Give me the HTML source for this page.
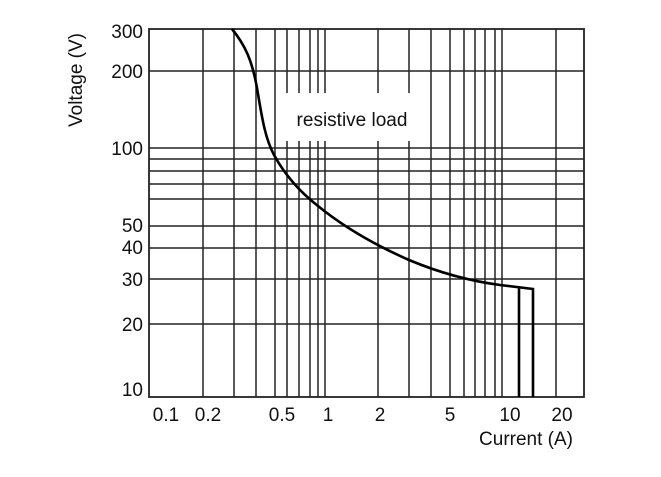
<!DOCTYPE html>
<html><head><style>body{margin:0;background:#fff}</style></head><body>
<svg width="661" height="472" xmlns="http://www.w3.org/2000/svg" font-family="Liberation Sans, sans-serif" font-size="19" fill="#111">
<g stroke="#222" stroke-width="1.5">
<line x1="149" y1="71" x2="584" y2="71"/>
<line x1="149" y1="148" x2="584" y2="148"/>
<line x1="149" y1="159" x2="584" y2="159"/>
<line x1="149" y1="171" x2="584" y2="171"/>
<line x1="149" y1="184" x2="584" y2="184"/>
<line x1="149" y1="199" x2="584" y2="199"/>
<line x1="149" y1="226" x2="584" y2="226"/>
<line x1="149" y1="248" x2="584" y2="248"/>
<line x1="149" y1="279" x2="584" y2="279"/>
<line x1="149" y1="324" x2="584" y2="324"/>
<line x1="203" y1="29" x2="203" y2="397"/>
<line x1="234" y1="29" x2="234" y2="397"/>
<line x1="256" y1="29" x2="256" y2="397"/>
<line x1="275" y1="29" x2="275" y2="397"/>
<line x1="431" y1="29" x2="431" y2="397"/>
<line x1="450" y1="29" x2="450" y2="397"/>
<line x1="464" y1="29" x2="464" y2="397"/>
<line x1="475" y1="29" x2="475" y2="397"/>
<line x1="485" y1="29" x2="485" y2="397"/>
<line x1="495" y1="29" x2="495" y2="397"/>
<line x1="502" y1="29" x2="502" y2="397"/>
<line x1="556" y1="29" x2="556" y2="397"/>
</g>
<g stroke="#222" stroke-width="1.5">
<path d="M287 29V93M287 141V397M299 29V93M299 141V397M310 29V93M310 141V397M318 29V93M318 141V397M325 29V93M325 141V397M378 29V93M378 141V397M409 29V93M409 141V397"/>
</g>
<rect x="149" y="29" width="435" height="368" fill="none" stroke="#222" stroke-width="1.8"/>
<text x="352" y="126" text-anchor="middle">resistive load</text>
<path d="M232 29 C245 45 252 60 257 88 C262 118 265 138 274 155 C285 175 300 192 318 206 C345 228 375 245 409 260 C440 273 470 281 500 285 L533 289 V397 M519 287 V397" fill="none" stroke="#000" stroke-width="2.6"/>
<g text-anchor="end">
<text x="143" y="38">300</text>
<text x="143" y="78">200</text>
<text x="143" y="155">100</text>
<text x="143" y="232">50</text>
<text x="143" y="254">40</text>
<text x="143" y="286">30</text>
<text x="143" y="331">20</text>
<text x="143" y="396">10</text>
</g>
<g text-anchor="middle">
<text x="166" y="421">0.1</text>
<text x="208" y="421">0.2</text>
<text x="282" y="421">0.5</text>
<text x="328" y="421">1</text>
<text x="380" y="421">2</text>
<text x="450" y="421">5</text>
<text x="510" y="421">10</text>
<text x="562" y="421">20</text>
</g>
<text x="573" y="445" text-anchor="end">Current (A)</text>
<text transform="translate(82,80) rotate(-90)" text-anchor="middle">Voltage (V)</text>
</svg>
</body></html>
